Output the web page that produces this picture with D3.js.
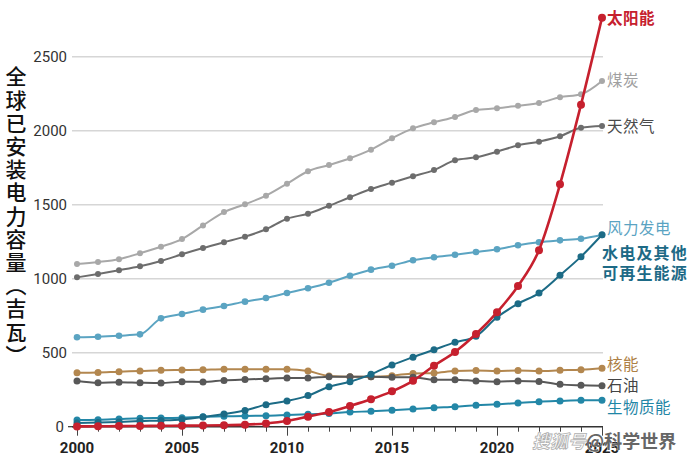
<!DOCTYPE html>
<html>
<head>
<meta charset="utf-8">
<script src="https://cdn.jsdelivr.net/npm/d3@7"></script>
<style>
  body { margin: 0; background: #fff; }
  svg { display: block; font-family: "Noto Sans CJK SC", "Noto Sans", sans-serif; }
</style>
</head>
<body>
<svg width="690" height="468"></svg>
<script>
const years = [2000, 2001, 2002, 2003, 2004, 2005, 2006, 2007, 2008, 2009, 2010, 2011, 2012,
  2013, 2014, 2015, 2016, 2017, 2018, 2019, 2020, 2021, 2022, 2023, 2024, 2025];

const coal = [1100, 1113, 1132, 1172, 1216, 1268, 1360, 1450, 1503, 1561, 1642, 1726, 1768,
  1814, 1872, 1949, 2016, 2057, 2093, 2140, 2151, 2169, 2187, 2226, 2246, 2336];
const gas = [1009, 1032, 1057, 1084, 1120, 1165, 1207, 1246, 1284, 1334, 1405, 1439, 1493,
  1550, 1606, 1649, 1692, 1734, 1800, 1820, 1858, 1901, 1926, 1962, 2020, 2032];
const wind = [604, 608, 615, 624, 732, 761, 791, 816, 845, 870, 903, 935, 973,
  1020, 1061, 1088, 1125, 1145, 1162, 1180, 1199, 1226, 1246, 1259, 1270, 1295];
const nuclear = [365, 367, 372, 376, 381, 383, 385, 388, 388, 388, 388, 376, 343,
  338, 338, 345, 360, 363, 376, 379, 376, 379, 376, 381, 385, 395];
const oil = [309, 297, 300, 297, 295, 304, 302, 313, 319, 324, 329, 329, 338,
  338, 338, 334, 334, 318, 318, 309, 304, 309, 306, 286, 280, 277];
const biomass = [45, 47, 52, 57, 59, 61, 68, 70, 73, 74, 79, 84, 90,
  99, 104, 111, 119, 128, 135, 145, 151, 160, 169, 174, 178, 178];
const hydro = [25, 28, 32, 38, 42, 49, 65, 86, 110, 149, 174, 210, 270,
  304, 354, 417, 470, 520, 570, 611, 739, 831, 903, 1023, 1149, 1297];
const solar = [2, 3, 4, 5, 6, 7, 8, 10, 14, 22, 38, 68, 99,
  140, 185, 239, 310, 412, 505, 626, 773, 951, 1193, 1638, 2176, 2764];

const yTicks = [0, 500, 1000, 1500, 2000, 2500];
const xLabels = [2000, 2005, 2010, 2015, 2020, 2025];
const yTitle = '全球已安装电力容量（吉瓦）';
const hydroLines = ['水电及其他', '可再生能源'];

// draw order: solar last so it sits on top
const series = [
  { name: '煤炭', values: coal, color: '#a8a8a8', text: '#a0a0a0', r: 3, w: 2 },
  { name: '天然气', values: gas, color: '#6d6d6d', text: '#4a4a4a', r: 3, w: 2 },
  { name: '风力发电', values: wind, color: '#5ba4c2', text: '#5aa3c2', r: 3.3, w: 2 },
  { name: '核能', values: nuclear, color: '#b3874f', text: '#ad7f45', r: 3.5, w: 2 },
  { name: '石油', values: oil, color: '#585858', text: '#444', r: 3.5, w: 2 },
  { name: '生物质能', values: biomass, color: '#2387a7', text: '#1f86a6', r: 3.5, w: 2 },
  { name: '水电及其他', values: hydro, color: '#1c6b86', text: '#1d6a86', r: 3.5, w: 2 },
  { name: '太阳能', values: solar, color: '#c6202e', text: '#c6202e', r: 4, w: 2.6 }
];

const svg = d3.select('svg');

const x = d3.scaleLinear().domain([2000, 2025]).range([77, 602]);
const y = d3.scaleLinear().domain([0, 2500]).range([426.7, 56.7]);

// gridlines
svg.append('g')
  .selectAll('line')
  .data(yTicks.filter((d) => d > 0))
  .enter()
  .append('line')
  .attr('x1', 72)
  .attr('x2', 603)
  .attr('y1', (d) => y(d))
  .attr('y2', (d) => y(d))
  .attr('stroke', '#d6d6d6')
  .attr('stroke-width', 1.5);

// y tick labels
svg.append('g')
  .selectAll('text')
  .data(yTicks)
  .enter()
  .append('text')
  .attr('x', (d) => (d === 0 ? 64 : 67))
  .attr('y', (d) => y(d))
  .attr('dy', '0.36em')
  .attr('text-anchor', 'end')
  .style('font-family', 'Roboto, sans-serif')
  .style('font-size', '15px')
  .attr('fill', '#333')
  .text((d) => d);

svg.append('line')
  .attr('x1', 68).attr('x2', 74)
  .attr('y1', y(0)).attr('y2', y(0))
  .attr('stroke', '#333').attr('stroke-width', 1.2);

// x axis
const xAxis = d3.axisBottom(x)
  .tickValues(years)
  .tickSize(5)
  .tickFormat('');
const gx = svg.append('g').attr('transform', `translate(0,${y(0)})`).call(xAxis);
gx.select('.domain').attr('stroke', '#333').attr('stroke-width', 1.5)
  .attr('d', `M72,0H603`);
gx.selectAll('.tick line')
  .attr('stroke', '#444')
  .attr('y2', (d) => (d % 5 === 0 ? 9 : 5));

svg.append('g')
  .selectAll('text')
  .data(xLabels)
  .enter()
  .append('text')
  .attr('x', (d) => x(d))
  .attr('y', 453)
  .attr('text-anchor', 'middle')
  .style('font-family', 'Roboto, sans-serif')
  .style('font-size', '15px')
  .style('font-weight', 'bold')
  .attr('fill', '#222')
  .text((d) => d);

// lines and dots
const line = d3.line()
  .x((d, i) => x(years[i]))
  .y((d) => y(d))
  .curve(d3.curveMonotoneX);

const sg = svg.append('g')
  .selectAll('g')
  .data(series)
  .enter()
  .append('g');

sg.append('path')
  .attr('d', (d) => line(d.values))
  .attr('fill', 'none')
  .attr('stroke', (d) => d.color)
  .attr('stroke-width', (d) => d.w);

sg.selectAll('circle')
  .data((d) => d.values.map((v, i) => ({ v, i, s: d })))
  .enter()
  .append('circle')
  .attr('cx', (d) => x(years[d.i]))
  .attr('cy', (d) => y(d.v))
  .attr('r', (d) => d.s.r)
  .attr('fill', (d) => d.s.color);

// end labels
const labelDy = {
  '煤炭': 5, '天然气': 6, '风力发电': -1, '核能': 2,
  '石油': 5, '生物质能': 13, '太阳能': 6
};
series.filter((d) => d.name !== '水电及其他').forEach((d) => {
  const last = d.values[d.values.length - 1];
  svg.append('text')
    .attr('x', 607)
    .attr('y', y(last) + labelDy[d.name])
    .style('font-size', '15.5px')
    .style('font-weight', d.name === '太阳能' ? 'bold' : 'normal')
    .style('letter-spacing', '0.5px')
    .attr('fill', d.text)
    .text(d.name);
});

const hyd = series.find((d) => d.name === '水电及其他');
svg.append('g')
  .selectAll('text')
  .data(hydroLines)
  .enter()
  .append('text')
  .attr('x', 602)
  .attr('y', (d, i) => 259 + i * 20)
  .style('font-size', '16px')
  .style('font-weight', 'bold')
  .style('letter-spacing', '1.2px')
  .attr('fill', hyd.text)
  .text((d) => d);

// vertical y-axis title
svg.append('text')
  .attr('x', 16)
  .attr('y', 66)
  .style('writing-mode', 'vertical-rl')
  .style('text-orientation', 'upright')
  .style('font-size', '21px')
  .style('font-weight', '500')
  .style('letter-spacing', '2.2px')
  .attr('fill', '#111')
  .text(yTitle);

// watermark
const wm = svg.append('text')
  .attr('x', 532)
  .attr('y', 448)
  .style('font-size', '18px')
  .style('font-weight', 'bold');
wm.append('tspan')
  .attr('fill', '#fff')
  .attr('stroke', '#b0b0b0')
  .attr('stroke-width', 0.8)
  .style('font-style', 'italic')
  .text('搜狐号');
wm.append('tspan')
  .attr('fill', '#666')
  .attr('stroke', '#fff')
  .attr('stroke-width', 0.6)
  .attr('paint-order', 'stroke')
  .text('@科学世界');
</script>
</body>
</html>
